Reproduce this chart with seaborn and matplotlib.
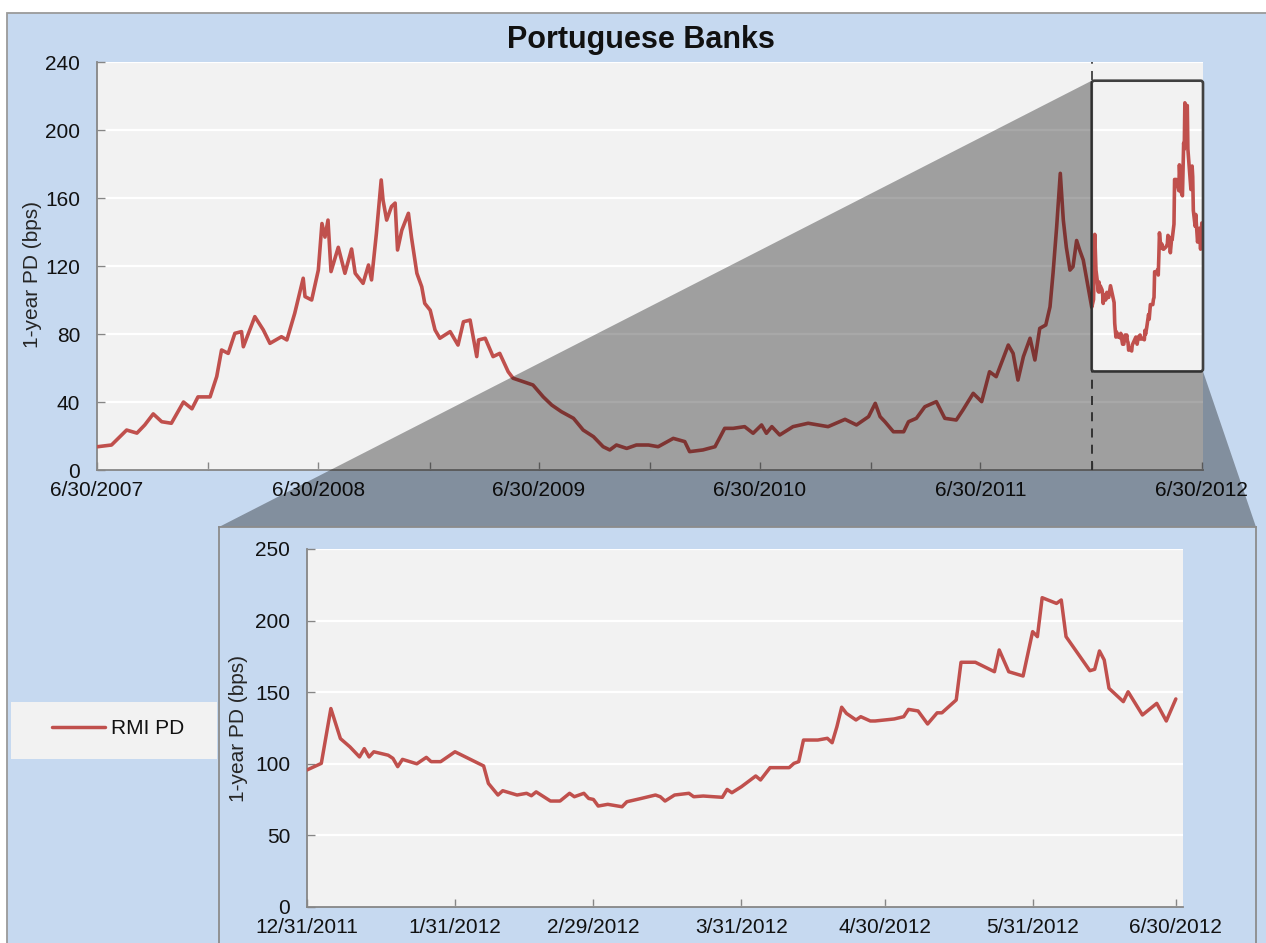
import matplotlib
matplotlib.use("Agg")
import matplotlib.pyplot as plt
import matplotlib.dates as mdates
import matplotlib.patches as mpatches
from matplotlib.lines import Line2D
import pandas as pd
import seaborn as sns

BG_BLUE = "#C6D9F0"
PLOT_GREY = "#F2F2F2"
RED = "#C0504D"
DARK = "#404040"
AXIS_GREY = "#868686"

# ---- data --------------------------------------------------------------
# long history (top panel), up to the start of the zoom window
hist_dates = [
    "2007-07-01", "2007-07-24", "2007-08-18", "2007-09-04", "2007-09-17", "2007-10-01",
    "2007-10-15", "2007-10-31", "2007-11-20", "2007-12-04", "2007-12-14",
    "2008-01-03", "2008-01-14", "2008-01-22", "2008-02-02", "2008-02-13", "2008-02-24",
    "2008-02-27", "2008-03-17", "2008-03-31", "2008-04-11", "2008-04-30", "2008-05-09",
    "2008-05-22", "2008-06-05", "2008-06-08", "2008-06-19", "2008-06-30",
    "2008-07-06", "2008-07-11", "2008-07-16", "2008-07-21", "2008-08-02", "2008-08-13",
    "2008-08-24", "2008-08-30", "2008-09-12", "2008-09-21", "2008-09-26",
    "2008-10-04", "2008-10-12", "2008-10-15", "2008-10-21", "2008-10-29", "2008-11-04",
    "2008-11-08", "2008-11-15", "2008-11-26", "2008-12-01", "2008-12-10", "2008-12-18",
    "2008-12-23",
    "2009-01-01", "2009-01-09", "2009-01-17", "2009-02-03", "2009-02-16", "2009-02-25",
    "2009-03-08", "2009-03-19", "2009-03-22", "2009-04-02", "2009-04-15", "2009-04-26",
    "2009-05-10", "2009-05-18", "2009-06-20", "2009-07-07", "2009-07-21", "2009-08-06",
    "2009-08-26", "2009-09-11", "2009-09-28", "2009-10-14", "2009-10-25", "2009-11-05",
    "2009-11-22", "2009-12-08", "2009-12-28",
    "2010-01-13", "2010-02-07", "2010-02-26", "2010-03-06", "2010-03-28", "2010-04-17",
    "2010-05-03", "2010-05-17", "2010-06-05", "2010-06-19", "2010-07-03", "2010-07-11",
    "2010-07-20", "2010-08-02", "2010-08-24", "2010-09-18", "2010-10-21", "2010-11-18",
    "2010-12-07", "2010-12-27",
    "2011-01-07", "2011-01-15", "2011-01-23", "2011-02-06", "2011-02-23", "2011-03-03",
    "2011-03-16", "2011-03-30", "2011-04-18", "2011-05-02", "2011-05-21", "2011-06-01",
    "2011-06-18", "2011-07-02", "2011-07-15", "2011-07-26", "2011-08-15", "2011-08-23",
    "2011-08-31", "2011-09-09", "2011-09-20", "2011-09-28", "2011-10-06", "2011-10-16",
    "2011-10-23", "2011-10-28", "2011-11-03", "2011-11-09", "2011-11-14", "2011-11-19",
    "2011-11-25", "2011-11-30", "2011-12-06", "2011-12-11", "2011-12-17", "2011-12-22",
]
hist_pd = [
    13.7, 14.7, 23.5, 21.7, 26.5, 33.0, 28.4, 27.5, 40.0, 36.0, 43.0,
    43.0, 55.0, 70.6, 68.6, 80.4, 81.4, 72.5, 90.2, 82.4, 74.5, 78.4, 76.5, 92.2, 112.8,
    102.0, 100.0, 117.6,
    145.0, 137.0, 147.0, 116.7, 131.0, 115.7, 130.0, 115.7, 109.8, 120.6, 111.8,
    139.0, 170.6, 158.8, 147.0, 155.0, 157.0, 129.4, 141.0, 151.0, 137.0, 115.7, 107.8, 98.0,
    94.0, 82.4, 77.5, 81.4, 73.5, 87.2, 88.2, 66.7, 76.5, 77.5, 66.7, 68.6, 57.8, 54.0,
    50.0, 43.0, 38.2, 34.3, 30.4, 23.5, 19.6, 13.7, 11.8, 14.7, 12.7, 14.7, 14.7,
    13.7, 18.6, 16.7, 10.8, 11.8, 13.7, 24.5, 24.5, 25.5, 21.6, 26.5, 21.6, 25.5, 20.6,
    25.5, 27.5, 25.5, 29.8, 26.5, 31.4,
    39.2, 31.4, 28.4, 22.5, 22.5, 28.4, 30.4, 37.2, 40.2, 30.4, 29.4, 35.3, 45.1, 40.2,
    57.8, 54.9, 73.5, 68.6, 52.9, 66.7, 77.5, 64.7, 83.3, 85.3, 96.0, 115.7, 143.0, 174.5,
    147.0, 131.0, 117.6, 119.6, 135.0, 129.4, 123.5, 113.7,
]

# zoom window Dec 2011 - Jun 2012 (bottom panel)
zoom_dates = [
    "2011-12-31", "2012-01-03", "2012-01-05", "2012-01-07", "2012-01-09", "2012-01-11",
    "2012-01-12", "2012-01-13", "2012-01-14", "2012-01-17", "2012-01-18", "2012-01-19",
    "2012-01-20", "2012-01-23", "2012-01-25", "2012-01-26", "2012-01-28", "2012-01-31",
    "2012-02-06", "2012-02-07", "2012-02-09", "2012-02-10", "2012-02-13", "2012-02-15",
    "2012-02-16", "2012-02-17", "2012-02-20", "2012-02-22", "2012-02-24", "2012-02-25",
    "2012-02-27", "2012-02-28", "2012-02-29", "2012-03-01", "2012-03-03", "2012-03-06",
    "2012-03-07", "2012-03-10", "2012-03-13", "2012-03-14", "2012-03-15", "2012-03-17",
    "2012-03-20", "2012-03-21", "2012-03-23", "2012-03-27", "2012-03-28", "2012-03-29",
    "2012-03-31", "2012-04-03", "2012-04-04", "2012-04-06", "2012-04-10", "2012-04-11",
    "2012-04-12", "2012-04-13", "2012-04-16", "2012-04-18", "2012-04-19", "2012-04-20",
    "2012-04-21", "2012-04-22", "2012-04-24", "2012-04-25", "2012-04-27", "2012-04-28",
    "2012-05-02", "2012-05-04", "2012-05-05", "2012-05-07", "2012-05-09", "2012-05-11",
    "2012-05-12", "2012-05-15", "2012-05-16", "2012-05-19", "2012-05-23", "2012-05-24",
    "2012-05-26", "2012-05-29", "2012-05-31", "2012-06-01", "2012-06-02", "2012-06-05",
    "2012-06-06", "2012-06-07", "2012-06-12", "2012-06-13", "2012-06-14", "2012-06-15",
    "2012-06-16", "2012-06-19", "2012-06-20", "2012-06-23", "2012-06-26", "2012-06-28",
    "2012-06-30",
]
zoom_pd = [
    95.7, 100.3, 138.6, 117.6, 111.8, 104.8, 110.6, 104.8, 108.4, 106.0, 103.8, 98.0,
    103.1, 100.0, 104.5, 101.5, 101.5, 108.4,
    98.5, 86.3, 78.2, 81.2, 78.2, 79.4, 77.7, 80.4, 74.0, 74.0, 79.4, 77.0,
    79.4, 75.8, 75.1, 70.5, 71.7, 70.0, 73.5, 75.8, 78.2, 77.0, 74.0, 78.2,
    79.4, 77.0, 77.5, 76.6, 82.1, 79.8, 84.0, 91.5, 88.7, 97.3, 97.3, 100.3,
    101.5, 116.6, 116.6, 117.8, 114.7, 125.9, 139.5, 135.2, 130.6, 132.9, 129.9, 129.9,
    131.3, 132.9, 138.0, 136.9, 127.8, 135.6, 135.6, 144.6, 170.9, 170.9, 164.3, 179.5,
    164.3, 161.3, 192.3, 188.8, 216.0, 212.0, 214.4, 188.8, 165.0, 166.0, 178.8, 172.5,
    152.7, 143.4, 150.3, 134.1, 142.2, 129.9, 145.3,
]

main_tick_dates = ["2007-06-30", "2007-12-31", "2008-06-30", "2008-12-31", "2009-06-30",
                   "2009-12-31", "2010-06-30", "2010-12-31", "2011-06-30", "2011-12-31",
                   "2012-06-30"]
main_tick_labels = ["6/30/2007", "", "6/30/2008", "", "6/30/2009", "", "6/30/2010", "",
                    "6/30/2011", "", "6/30/2012"]
main_yticks = [0, 40, 80, 120, 160, 200, 240]

zoom_tick_dates = ["2011-12-31", "2012-01-31", "2012-02-29", "2012-03-31", "2012-04-30",
                   "2012-05-31", "2012-06-30"]
zoom_tick_labels = ["12/31/2011", "1/31/2012", "2/29/2012", "3/31/2012", "4/30/2012",
                    "5/31/2012", "6/30/2012"]
zoom_yticks = [0, 50, 100, 150, 200, 250]

box_lo, box_hi = 58, 229   # y-extent of the highlighted window on the top panel

# ---- styling -------------------------------------------------------------
sns.set_theme(style="white")
plt.rcParams["font.family"] = ["Liberation Sans", "DejaVu Sans"]
plt.rcParams["text.color"] = "#111111"
plt.rcParams["xtick.color"] = "#111111"
plt.rcParams["ytick.color"] = "#111111"

FS = 15

W, H = 1266, 943
fig = plt.figure(figsize=(W / 100, H / 100), dpi=100, facecolor="white")


def fx(px):
    return px / W


def fy(py):
    return 1 - py / H


def style_axes(ax):
    ax.set_facecolor(PLOT_GREY)
    ax.grid(axis="y", color="white", linewidth=1.6)
    ax.grid(axis="x", visible=False)
    for side in ("top", "right"):
        ax.spines[side].set_visible(False)
    for side in ("left", "bottom"):
        ax.spines[side].set_color(AXIS_GREY)
        ax.spines[side].set_linewidth(1.3)
    ax.tick_params(direction="in", length=6, width=1, color=AXIS_GREY,
                   labelsize=FS, left=True, bottom=True)
    ax.tick_params(axis="x", pad=8)
    ax.tick_params(axis="y", pad=12)
    ax.set_axisbelow(True)


# outer chart frame
fig.add_artist(mpatches.Rectangle((fx(7), -0.05), 1.1, fy(13) + 0.05,
                                  transform=fig.transFigure, facecolor=BG_BLUE,
                                  edgecolor="#9A9A9A", linewidth=1.3, zorder=-10))

# ---- top panel -------------------------------------------------------------
full = pd.DataFrame({
    "date": pd.to_datetime(hist_dates + zoom_dates),
    "pd": hist_pd + zoom_pd,
})
zoom = pd.DataFrame({"date": pd.to_datetime(zoom_dates), "pd": zoom_pd})

ax = fig.add_axes([fx(97), fy(470), fx(1203) - fx(97), fy(62) - fy(470)])
style_axes(ax)
sns.lineplot(data=full, x="date", y="pd", ax=ax, color=RED, linewidth=2.6,
             estimator=None, sort=False, zorder=3)
ax.set_xlim(pd.Timestamp("2007-06-30"), pd.Timestamp("2012-07-02"))
ax.set_ylim(0, 240)
ax.set_yticks(main_yticks)
ax.set_xticks(pd.to_datetime(main_tick_dates))
ax.set_xticklabels(main_tick_labels)
ax.set_xlabel("")
ax.set_ylabel("1-year PD (bps)", fontsize=FS)
ax.yaxis.set_label_coords(-0.05, 0.48)

win_start = mdates.date2num(pd.Timestamp(zoom_dates[0]))
x_right = ax.get_xlim()[1]
ax.axvline(win_start, color=DARK, linestyle=(0, (5, 4)), linewidth=1.3, zorder=4)
ax.add_patch(mpatches.FancyBboxPatch(
    (win_start, box_lo), x_right - win_start, box_hi - box_lo,
    boxstyle="round,pad=0,rounding_size=4", mutation_aspect=0.36,
    facecolor="none", edgecolor=DARK, linewidth=1.9, zorder=5, clip_on=False))

fig.text(fx(641), fy(40), "Portuguese Banks", ha="center", va="center",
         fontsize=22, fontweight="bold")

# ---- zoom panel ------------------------------------------------------------
panel = fig.add_axes([fx(219), fy(960), fx(1256) - fx(219), fy(527) - fy(960)], zorder=2)
panel.set_facecolor(BG_BLUE)
panel.set_xticks([])
panel.set_yticks([])
panel.grid(False)
for sp in panel.spines.values():
    sp.set_color("#8C8C8C")
    sp.set_linewidth(1.3)

zax = fig.add_axes([fx(307), fy(907), fx(1183) - fx(307), fy(549) - fy(907)], zorder=3)
style_axes(zax)
sns.lineplot(data=zoom, x="date", y="pd", ax=zax, color=RED, linewidth=2.5,
             estimator=None, sort=False, zorder=3)
zax.set_xlim(pd.Timestamp("2011-12-31"), pd.Timestamp("2012-07-01 12:00"))
zax.set_ylim(0, 250)
zax.set_yticks(zoom_yticks)
zax.set_xticks(pd.to_datetime(zoom_tick_dates))
zax.set_xticklabels(zoom_tick_labels)
zax.set_xlabel("")
zax.set_ylabel("1-year PD (bps)", fontsize=FS)
zax.yaxis.set_label_coords(-0.067, 0.5)

# ---- shaded connector between window and zoom panel ------------------------
to_fig = fig.transFigure.inverted()
p_tl = to_fig.transform(ax.transData.transform((win_start, box_hi)))
p_bl = to_fig.transform(ax.transData.transform((win_start, box_lo)))
p_br = to_fig.transform(ax.transData.transform((x_right, box_lo)))
q_tl = to_fig.transform(panel.transAxes.transform((0, 1)))
q_tr = to_fig.transform(panel.transAxes.transform((1, 1)))
fig.add_artist(mpatches.Polygon([p_tl, q_tl, q_tr, p_br, p_bl], closed=True,
                                transform=fig.transFigure, facecolor="black",
                                edgecolor="none", alpha=0.34, zorder=1))

# ---- legend ------------------------------------------------------------------
fig.add_artist(mpatches.Rectangle((fx(11), fy(759)), fx(217) - fx(11), fy(702) - fy(759),
                                  transform=fig.transFigure, facecolor=PLOT_GREY,
                                  edgecolor="none", zorder=1))
fig.legend(handles=[Line2D([], [], color=RED, linewidth=2.5)], labels=["RMI PD"],
           loc="center left", bbox_to_anchor=(fx(52), fy(729)), frameon=False,
           borderaxespad=0, borderpad=0, handlelength=2.55, handletextpad=0.3,
           fontsize=FS)

fig.savefig("out.png", dpi=100, facecolor="white")
